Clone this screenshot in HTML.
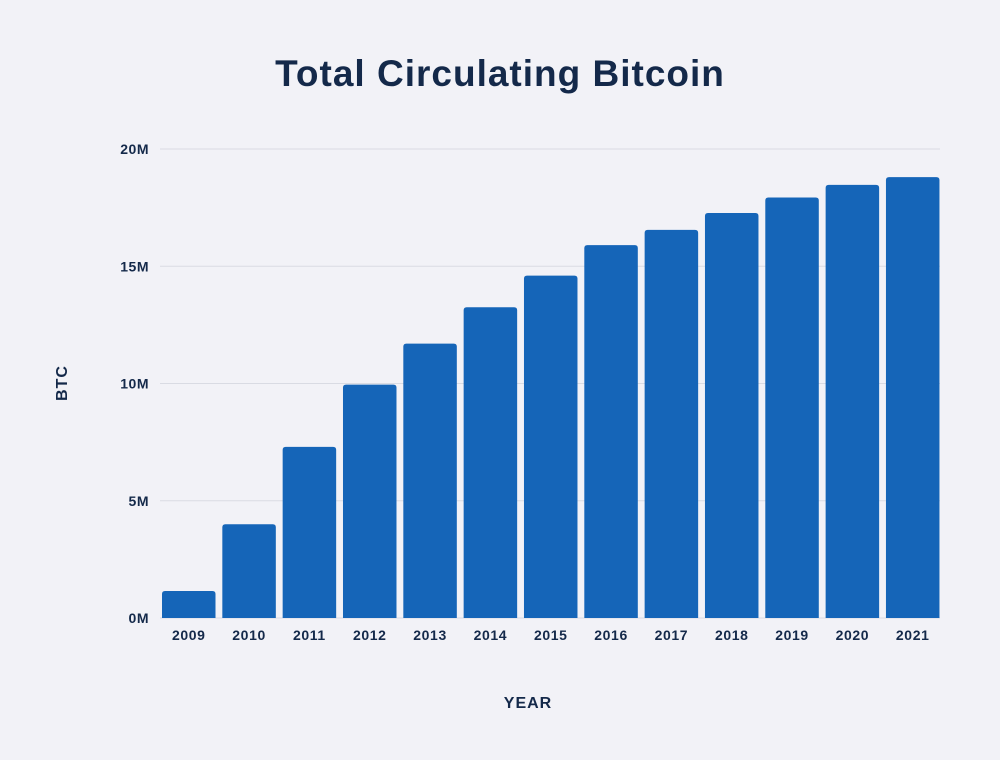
<!DOCTYPE html>
<html><head><meta charset="utf-8"><style>
html,body{margin:0;padding:0;background:#f2f2f7;}
svg{display:block;font-family:"Liberation Sans",sans-serif;}
</style></head><body>
<svg id="chart" width="1000" height="760" viewBox="0 0 1000 760">
<rect width="1000" height="760" fill="#f2f2f7"/>
<text x="500" y="86" text-anchor="middle" font-size="37" font-weight="bold" fill="#14294a" letter-spacing="1">Total Circulating Bitcoin</text>
<text transform="translate(67,383) rotate(-90)" text-anchor="middle" font-size="16" font-weight="bold" fill="#14294a" letter-spacing="1">BTC</text>
<text x="528" y="708" text-anchor="middle" font-size="16" font-weight="bold" fill="#14294a" letter-spacing="1">YEAR</text>
<g id="grid"></g><g id="bars"></g><g id="labels"></g>
</svg>
<script>
const categories=["2009","2010","2011","2012","2013","2014","2015","2016","2017","2018","2019","2020","2021"];
const values=[1.15,4.0,7.3,9.95,11.7,13.25,14.6,15.9,16.55,17.27,17.93,18.47,18.8];
const yTicks=[0,5,10,15,20];
const yTickLabels=["0M","5M","10M","15M","20M"];
const NS="http://www.w3.org/2000/svg";
const y0=618,yTop=149,yMax=20;
function yScale(v){return y0-(v/yMax)*(y0-yTop);}
const xStart=162,pitch=60.33,bw=53.5;
function xScale(i){return xStart+i*pitch;}
const grid=document.getElementById('grid'),bars=document.getElementById('bars'),labels=document.getElementById('labels');
yTicks.forEach((t,i)=>{
  const y=yScale(t);
  const l=document.createElementNS(NS,'line');
  l.setAttribute('x1',160);l.setAttribute('x2',940);l.setAttribute('y1',y);l.setAttribute('y2',y);
  l.setAttribute('stroke','#d9dbe3');l.setAttribute('stroke-width','1');
  
  
  grid.appendChild(l);
  const tx=document.createElementNS(NS,'text');
  tx.setAttribute('x',149);tx.setAttribute('y',y+5);tx.setAttribute('text-anchor','end');
  tx.setAttribute('font-size','14');tx.setAttribute('font-weight','bold');tx.setAttribute('fill','#14294a');
  tx.setAttribute('letter-spacing','0.5');
  tx.textContent=yTickLabels[i];
  
  
  labels.appendChild(tx);
});
categories.forEach((c,i)=>{
  const x=xScale(i),y=yScale(values[i]);
  const p=document.createElementNS(NS,'path');
  const r=3;
  p.setAttribute('d',`M${x},${y0}V${y+r}Q${x},${y} ${x+r},${y}H${x+bw-r}Q${x+bw},${y} ${x+bw},${y+r}V${y0}Z`);
  p.setAttribute('fill','#1565b8');
  
  
  bars.appendChild(p);
  const tx=document.createElementNS(NS,'text');
  tx.setAttribute('x',x+bw/2);tx.setAttribute('y',640);tx.setAttribute('text-anchor','middle');
  tx.setAttribute('font-size','14');tx.setAttribute('font-weight','bold');tx.setAttribute('fill','#14294a');
  tx.setAttribute('letter-spacing','0.6');
  tx.textContent=c;
  
  
  labels.appendChild(tx);
});
</script>
</body></html>
